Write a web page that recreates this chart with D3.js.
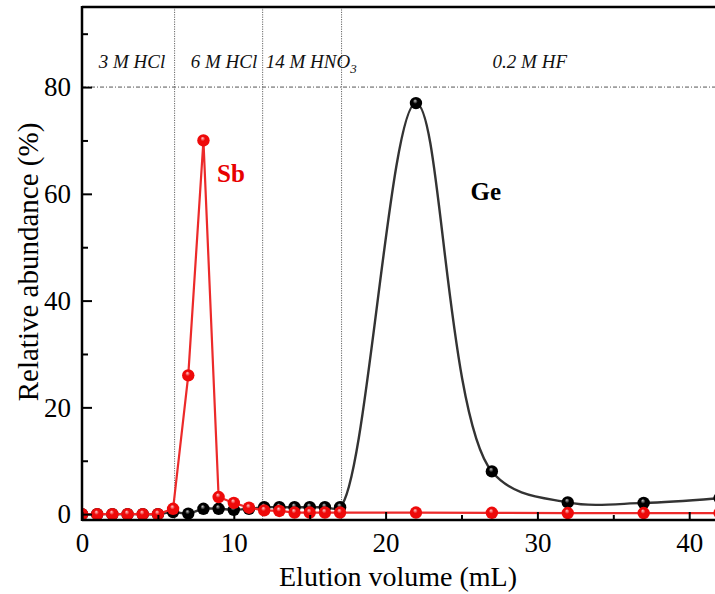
<!DOCTYPE html>
<html><head><meta charset="utf-8">
<script src="https://cdn.jsdelivr.net/npm/d3@7"></script>
<style>body{margin:0;background:#fff;} svg{display:block;}</style>
</head><body>
<svg id="c" width="715" height="594"></svg>
<script>
const sbX = [0,1,2,3,4,5,6,7,8,9,10,11,12,13,14,15,16,17,22,27,32,37,42];
const sbY = [0,0,0,0,0,0,1,26,70,3.2,2.1,1.2,0.7,0.6,0.3,0.3,0.3,0.3,0.3,0.25,0.2,0.2,0.2];
const geX = [0,1,2,3,4,5,6,7,8,9,10,11,12,13,14,15,16,17,22,27,32,37,42];
const geY = [0,0,0,0,0,0,0.4,0.1,1.0,1.0,0.8,1.0,1.3,1.3,1.3,1.3,1.3,1.3,77,8,2.2,2.1,3.0];
const xTicks = [0,10,20,30,40];
const yTicks = [0,20,40,60,80];
const phaseBounds = [6.1,11.9,17.1];
const phaseLabels = [
  {x:3.29,t:"3 M HCl",a:"middle"},
  {x:9.35,t:"6 M HCl",a:"middle"},
  {x:12.1,t:"14 M HNO",sub:"3",a:"start"},
  {x:29.5,t:"0.2 M HF",a:"middle"}];
const refLine = 80;

const svg = d3.select("#c");
const L = 82, T = 7, B = 520;
const x = d3.scaleLinear().domain([0,42]).range([L, L + 42*15.18]);
const y = d3.scaleLinear().domain([-1.1,95]).range([B, T]);
const font = "'Liberation Serif','Times New Roman',serif";

const defs = svg.append("defs");
function grad(id, c0, c1){
  const g = defs.append("radialGradient").attr("id",id).attr("cx","50%").attr("cy","50%").attr("r","55%").attr("fx","42%").attr("fy","30%");
  g.append("stop").attr("offset","0%").attr("stop-color",c0);
  g.append("stop").attr("offset","35%").attr("stop-color",c1);
  g.append("stop").attr("offset","100%").attr("stop-color",c1);
}
grad("gR","#ffd0d0","#ee0a0a");
grad("gK","#c8c8c8","#000000");
defs.append("clipPath").attr("id","clip").append("rect").attr("x",L).attr("y",T).attr("width",715-L).attr("height",B-T);

// reference lines
svg.append("line").attr("x1",L).attr("x2",715).attr("y1",y(refLine)).attr("y2",y(refLine))
  .attr("stroke","#555").attr("stroke-width",1).attr("stroke-dasharray","4,2,1,2");
phaseBounds.forEach(v=>{
  svg.append("line").attr("x1",x(v)).attr("x2",x(v)).attr("y1",T).attr("y2",B)
    .attr("stroke","#666").attr("stroke-width",1).attr("stroke-dasharray","1.2,1.2");
});
phaseLabels.forEach(p=>{
  const t = svg.append("text").attr("x",x(p.x)).attr("y",68).attr("text-anchor",p.a)
    .attr("font-family",font).attr("font-style","italic").attr("font-size",19).attr("fill","#111").text(p.t);
  if(p.sub) t.append("tspan").attr("font-size",13).attr("dy",5).text(p.sub);
});

const g = svg.append("g").attr("clip-path","url(#clip)");
const geData = geX.map((v,i)=>[v,geY[i]]);
const sbData = sbX.map((v,i)=>[v,sbY[i]]);
g.append("path").attr("d", d3.line().x(d=>x(d[0])).y(d=>y(d[1])).curve(d3.curveCatmullRom.alpha(0.5))(geData))
  .attr("fill","none").attr("stroke","#333").attr("stroke-width",2.4);
g.selectAll(".gk").data(geData).enter().append("circle").attr("cx",d=>x(d[0])).attr("cy",d=>y(d[1])).attr("r",6.2).attr("fill","url(#gK)");
g.append("path").attr("d", d3.line().x(d=>x(d[0])).y(d=>y(d[1]))(sbData))
  .attr("fill","none").attr("stroke","#ec2a2a").attr("stroke-width",2.2);
g.selectAll(".gr").data(sbData).enter().append("circle").attr("cx",d=>x(d[0])).attr("cy",d=>y(d[1])).attr("r",6.2).attr("fill","url(#gR)");

// series labels
svg.append("text").attr("x",x(8.9)).attr("y",y(62.3)).attr("font-family",font).attr("font-weight","bold").attr("font-size",25).attr("fill","#e80000").text("Sb");
svg.append("text").attr("x",x(25.6)).attr("y",y(58.8)).attr("font-family",font).attr("font-weight","bold").attr("font-size",25).attr("fill","#000").text("Ge");

// axes
const xa = svg.append("g").attr("transform",`translate(0,${B})`)
  .call(d3.axisBottom(x).tickValues(xTicks).tickSizeInner(-8).tickSizeOuter(0).tickPadding(13).tickFormat(d3.format("d")));
const xm = svg.append("g").attr("transform",`translate(0,${B})`)
  .call(d3.axisBottom(x).tickValues([5,15,25,35]).tickSizeInner(-5).tickSizeOuter(0).tickFormat(""));
const ya = svg.append("g").attr("transform",`translate(${L},0)`)
  .call(d3.axisLeft(y).tickValues(yTicks).tickSizeInner(-10).tickSizeOuter(0).tickPadding(11).tickFormat(d3.format("d")));
const ym = svg.append("g").attr("transform",`translate(${L},0)`)
  .call(d3.axisLeft(y).tickValues([10,30,50,70,90]).tickSizeInner(-6).tickSizeOuter(0).tickFormat(""));
[xa,xm,ya,ym].forEach(a=>{
  a.select(".domain").remove();
  a.selectAll("line").attr("stroke","#000").attr("stroke-width",2);
  a.selectAll("text").attr("font-family",font).attr("font-size",27).attr("fill","#000");
});
// frame
svg.append("line").attr("x1",L).attr("x2",L).attr("y1",T-1).attr("y2",B+1).attr("stroke","#000").attr("stroke-width",2.5);
svg.append("line").attr("x1",L).attr("x2",715).attr("y1",B).attr("y2",B).attr("stroke","#000").attr("stroke-width",2.5);
svg.append("line").attr("x1",L).attr("x2",715).attr("y1",T).attr("y2",T).attr("stroke","#000").attr("stroke-width",2.5);

svg.append("text").attr("x",398).attr("y",586).attr("text-anchor","middle").attr("font-family",font).attr("font-size",28).attr("fill","#000").text("Elution volume (mL)");
svg.append("text").attr("transform","translate(38,262) rotate(-90)").attr("text-anchor","middle").attr("font-family",font).attr("font-size",29).attr("fill","#000").text("Relative abundance (%)");
</script>
</body></html>
